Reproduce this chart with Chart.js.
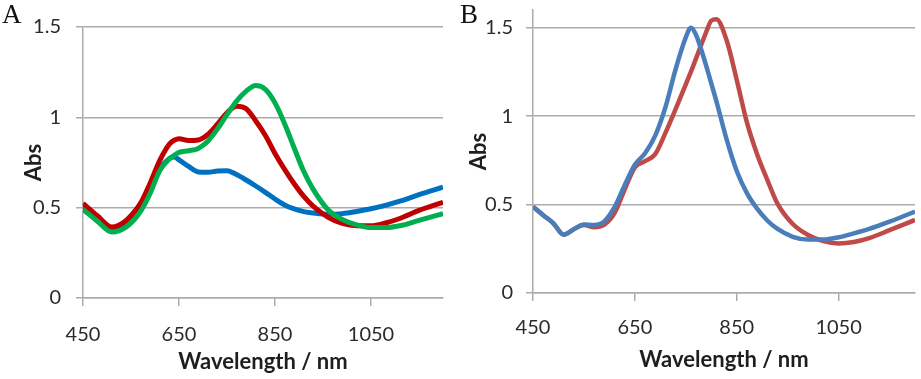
<!DOCTYPE html>
<html>
<head>
<meta charset="utf-8">
<script src="https://cdn.jsdelivr.net/npm/chart.js@4.4.0/dist/chart.umd.min.js"></script>
<style>
  body { margin: 0; background: #fff; }
  .panel { position: absolute; top: 0; height: 379px; }
  .panel-label {
    position: absolute;
    font-family: "Liberation Serif", "DejaVu Serif", serif;
    font-size: 27px;
    line-height: 27px;
    color: #111;
  }
</style>
</head>
<body>
<div class="panel" style="left:0;width:460px">
  <canvas id="chartA" width="460" height="379"></canvas>
  <div class="panel-label" style="left:2px;top:1px">A</div>
</div>
<div class="panel" style="left:460px;width:461px">
  <canvas id="chartB" width="461" height="379"></canvas>
  <div class="panel-label" style="left:0px;top:1px">B</div>
</div>
<script>
  "use strict";

  // Panel A spectra (wavelength in nm, absorbance)
  const wavelengthsA = [450, 480, 510, 540, 570, 590, 610, 630, 640, 650, 670, 690, 710, 730, 750, 770,
    790, 810, 830, 850, 870, 890, 910, 930, 960, 990, 1020, 1050, 1080, 1110, 1150, 1200];
  const blueA = [0.50, 0.44, 0.378, 0.425, 0.52, 0.60, 0.715, 0.772, 0.781, 0.765, 0.728, 0.698, 0.696, 0.703, 0.705, 0.683,
    0.653, 0.62, 0.585, 0.548, 0.515, 0.493, 0.478, 0.47, 0.463, 0.467, 0.479, 0.494, 0.513, 0.536, 0.572, 0.614];
  const redA = [0.523, 0.455, 0.393, 0.43, 0.525, 0.637, 0.762, 0.852, 0.873, 0.882, 0.872, 0.875, 0.905, 0.962, 1.025, 1.062,
    1.048, 0.98, 0.90, 0.80, 0.712, 0.632, 0.562, 0.507, 0.448, 0.413, 0.40, 0.40, 0.415, 0.44, 0.485, 0.53];
  const greenA = [0.49, 0.425, 0.365, 0.393, 0.48, 0.58, 0.705, 0.77, 0.79, 0.806, 0.815, 0.828, 0.868, 0.935, 1.015, 1.09,
    1.145, 1.176, 1.155, 1.08, 0.965, 0.83, 0.70, 0.60, 0.49, 0.435, 0.405, 0.39, 0.39, 0.40, 0.43, 0.467];

  // Panel B spectra
  const wavelengthsB = [450, 470, 490, 510, 530, 550, 570, 590, 610, 630, 650, 670, 690, 710, 730, 750, 760, 770,
    790, 800, 810, 830, 850, 870, 890, 910, 930, 960, 990, 1020, 1050, 1080, 1110, 1150, 1200];
  const blueB = [0.488, 0.44, 0.394, 0.33, 0.36, 0.387, 0.385, 0.405, 0.485, 0.61, 0.725, 0.79, 0.89, 1.05, 1.265, 1.445, 1.50, 1.46,
    1.285, 1.185, 1.085, 0.87, 0.69, 0.565, 0.477, 0.41, 0.362, 0.318, 0.302, 0.302, 0.315, 0.337, 0.362, 0.403, 0.46];
  const redB = [0.488, 0.44, 0.394, 0.33, 0.36, 0.385, 0.372, 0.387, 0.452, 0.585, 0.71, 0.745, 0.785, 0.905, 1.04, 1.18, 1.25, 1.325,
    1.475, 1.54, 1.548, 1.43, 1.205, 0.965, 0.785, 0.64, 0.505, 0.39, 0.328, 0.293, 0.28, 0.288, 0.31, 0.355, 0.413];

  // Axis ticks
  const xTickValues = [450, 650, 850, 1050];
  const yTickValues = [0, 0.5, 1, 1.5];

  const gridColor = "#ababab";
  const tickColor = "#2b2b2b";
  const titleColor = "#1e1e1e";

  function toPoints(xs, ys) {
    return xs.map((x, i) => ({ x: x, y: ys[i] }));
  }

  function lineDataset(xs, ys, color, width) {
    return {
      data: toPoints(xs, ys),
      borderColor: color,
      borderWidth: width,
      pointRadius: 0,
      fill: false,
      cubicInterpolationMode: "monotone",
    };
  }

  // cfg: canvas id, datasets, y max, fixed axis sizes and paddings
  function createSpectrumChart(cfg) {
    const ctx = document.getElementById(cfg.id).getContext("2d");
    return new Chart(ctx, {
      type: "line",
      data: { datasets: cfg.datasets },
      options: {
        responsive: false,
        animation: false,
        layout: { padding: cfg.padding },
        plugins: { legend: { display: false }, tooltip: { enabled: false } },
        scales: {
          x: {
            type: "linear",
            min: 450,
            max: 1200,
            afterBuildTicks: (s) => {
              s.ticks = xTickValues.map((v) => ({ value: v }));
            },
            afterFit: (s) => {
              s.height = cfg.xHeight;
              s.paddingLeft = 0;
              s.paddingRight = 0;
            },
            grid: {
              drawOnChartArea: false,
              tickLength: 8,
              color: gridColor,
              lineWidth: 1.5,
            },
            border: { color: gridColor, width: 1.5 },
            ticks: {
              padding: cfg.xTickPad,
              color: tickColor,
              maxRotation: 0,
              font: { family: "Lato", size: 20 },
              callback: (v) => String(v),
            },
            title: {
              display: true,
              text: "Wavelength / nm",
              color: titleColor,
              font: { family: "Lato", size: 22, weight: "bold" },
              padding: { top: 0, bottom: 0 },
            },
          },
          y: {
            min: 0,
            max: cfg.yMax,
            afterBuildTicks: (s) => {
              s.ticks = yTickValues.map((v) => ({ value: v }));
            },
            afterFit: (s) => {
              s.width = cfg.yWidth;
              s.paddingTop = 0;
              s.paddingBottom = 0;
            },
            grid: { tickLength: 7, color: gridColor, lineWidth: 1.5 },
            border: { color: gridColor, width: 1.5 },
            ticks: {
              padding: cfg.yTickPad,
              color: tickColor,
              font: { family: "Lato", size: 20 },
              callback: (v) => String(v),
            },
            title: {
              display: true,
              text: "Abs",
              color: titleColor,
              font: { family: "Lato", size: 22, weight: "bold" },
              padding: { top: cfg.yTitlePad, bottom: 0 },
            },
          },
        },
      },
    });
  }

  // Panel A: green drawn on top, then red, then blue
  createSpectrumChart({
    id: "chartA",
    datasets: [
      lineDataset(wavelengthsA, greenA, "#00b050", 5),
      lineDataset(wavelengthsA, redA, "#c00000", 5),
      lineDataset(wavelengthsA, blueA, "#0070c0", 5),
    ],
    yMax: 1.5,
    padding: { top: 27, right: 17, bottom: 4, left: 0 },
    yWidth: 83,
    xHeight: 77,
    xTickPad: 17,
    yTickPad: 15,
    yTitlePad: 21,
  });

  // Panel B: blue on top of red
  createSpectrumChart({
    id: "chartB",
    datasets: [
      lineDataset(wavelengthsB, blueB, "#4a7ebb", 4.5),
      lineDataset(wavelengthsB, redB, "#be4b48", 4.5),
    ],
    yMax: 1.6,
    padding: { top: 10, right: 6, bottom: 6, left: 0 },
    yWidth: 73,
    xHeight: 80,
    xTickPad: 15,
    yTickPad: 13,
    yTitlePad: 6,
  });
</script>
</body>
</html>
